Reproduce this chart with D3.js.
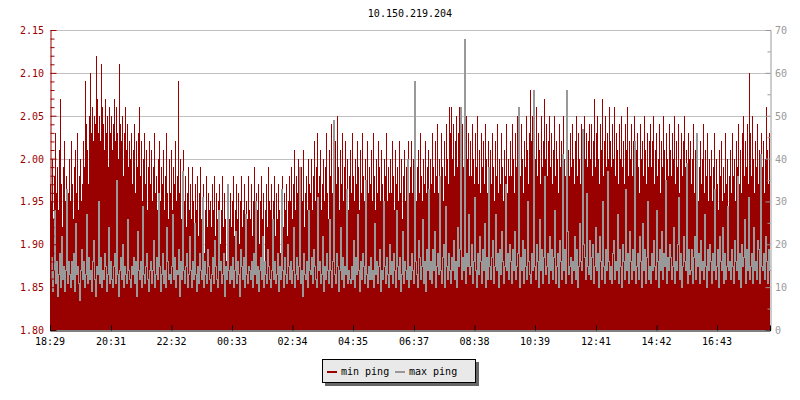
<!DOCTYPE html>
<html>
<head>
<meta charset="utf-8">
<title>10.150.219.204</title>
<script src="https://d3js.org/d3.v7.min.js"></script>
<style>
  body { margin: 0; background: #fff; }
  text { font-family: "DejaVu Sans Mono", monospace; font-size: 10px; }
</style>
</head>
<body>
<script>
// one sample every 2 minutes, starting 18:29, over 24 hours
let spanMin = 1440;
let timeTicks = ["18:29", "20:31", "22:32", "00:33", "02:34", "04:35", "06:37", "08:38", "10:39", "12:41", "14:42", "16:43"];
let leftTicks = [1.80, 1.85, 1.90, 1.95, 2.00, 2.05, 2.10, 2.15];
let rightTicks = [0, 10, 20, 30, 40, 50, 60, 70];
let seriesNames = ["min ping", "max ping"];

let minPing = [
  1.97,1.95,2.00,1.93,1.98,2.03,1.96,1.99,1.94,2.01,2.07,1.97,1.92,1.99,2.02,1.95,1.98,1.90,1.96,2.00,
  1.95,2.02,1.97,1.93,1.99,2.01,1.96,2.03,1.94,1.98,2.00,1.95,1.97,2.02,1.99,2.09,2.04,2.01,1.97,2.05,
  2.10,2.03,2.06,2.02,2.05,2.04,2.12,2.07,2.03,2.05,2.02,2.11,2.06,2.04,2.01,2.07,2.03,2.05,1.99,2.06,
  2.03,2.05,2.01,2.04,2.07,2.02,2.06,2.03,2.00,2.11,2.04,2.02,2.05,1.98,2.03,2.06,2.01,2.04,1.99,2.02,
  2.00,2.03,1.97,2.01,2.04,1.96,2.02,1.99,2.03,2.06,1.98,2.02,1.95,2.00,2.03,1.97,2.01,1.94,1.99,2.02,
  1.97,2.01,1.95,1.99,2.03,1.96,1.98,1.94,2.00,2.02,1.95,1.99,1.97,2.01,1.94,1.98,2.03,1.96,1.93,2.00,
  1.96,2.01,1.94,1.99,1.97,2.02,1.95,1.98,2.09,1.96,2.00,1.93,1.97,2.01,1.95,1.98,1.92,1.96,1.99,1.94,
  1.97,1.93,1.99,1.95,1.92,1.97,1.94,1.98,1.91,1.96,1.99,1.93,1.95,1.97,1.89,1.94,1.98,1.92,1.96,1.94,
  1.95,1.92,1.97,1.94,1.98,1.91,1.96,1.93,1.95,1.97,1.90,1.94,1.98,1.92,1.96,1.93,1.88,1.95,1.97,1.93,
  1.96,1.92,1.95,1.98,1.91,1.94,1.97,1.93,1.96,1.90,1.95,1.98,1.92,1.94,1.97,1.91,1.95,1.93,1.98,1.94,
  1.93,1.97,1.91,1.95,1.99,1.92,1.96,1.94,1.97,1.90,1.95,1.98,1.93,1.96,1.87,1.94,1.97,1.92,1.99,1.95,
  1.94,1.97,1.92,1.95,1.98,1.91,1.96,1.93,1.97,1.94,1.89,1.95,1.98,1.92,1.96,1.94,1.97,1.91,1.95,1.98,
  1.95,1.99,1.93,1.97,2.01,1.94,1.98,1.96,2.00,1.93,1.97,1.99,1.95,2.01,1.92,1.96,1.98,1.94,2.00,1.97,
  1.96,2.00,1.94,1.98,2.02,1.95,1.99,2.03,1.96,1.98,2.01,1.94,1.97,2.00,1.95,1.99,2.03,1.96,1.93,2.01,
  1.98,2.04,1.96,2.00,1.95,2.02,1.97,2.05,1.99,1.94,2.01,1.97,2.03,1.95,1.99,2.02,1.96,2.00,1.94,1.98,
  2.01,1.96,2.03,1.98,1.95,2.00,1.97,2.02,1.99,1.94,2.01,1.96,2.03,1.98,1.95,2.00,1.97,2.02,1.96,1.99,
  1.97,2.01,1.95,2.03,1.98,1.94,2.00,1.96,2.02,1.99,1.95,2.01,1.97,1.93,2.00,1.98,2.03,1.95,1.99,1.96,
  2.00,1.96,2.02,1.98,1.94,2.01,1.97,1.99,1.95,2.02,1.96,2.00,1.93,1.98,2.01,1.95,1.99,1.97,2.02,1.96,
  1.99,2.02,1.96,2.00,1.97,2.03,1.95,1.99,2.01,1.96,2.03,1.98,1.95,2.00,1.97,2.02,1.96,1.99,2.01,1.95,
  2.00,1.97,2.03,1.99,1.96,2.02,1.98,2.04,1.96,2.00,1.97,2.03,1.99,1.95,2.02,1.98,2.04,2.00,1.97,2.06,
  2.03,2.06,2.00,2.04,1.98,2.02,2.05,1.99,2.03,2.06,1.97,2.01,2.04,1.99,2.02,1.97,2.05,2.00,2.03,1.98,
  2.02,1.98,2.04,2.00,1.97,2.03,1.99,2.05,1.97,2.01,1.96,2.03,1.99,2.02,1.97,2.04,2.00,1.96,2.02,1.99,
  2.01,1.97,2.03,1.99,1.95,2.02,1.98,2.04,1.96,2.00,1.97,2.03,1.99,1.95,2.01,1.98,2.04,1.96,2.00,1.98,
  2.02,1.98,2.04,2.00,1.96,2.03,1.99,2.05,1.97,2.01,1.98,2.04,2.00,1.96,2.02,1.99,2.05,2.01,1.97,2.03,
  2.08,2.02,2.05,1.99,2.03,2.00,2.06,1.98,2.03,2.01,1.97,2.05,1.99,2.02,2.07,2.00,2.04,1.98,2.02,2.05,
  1.99,2.03,1.97,2.01,2.05,1.98,2.02,2.00,1.96,2.04,1.99,2.02,1.97,2.05,2.00,1.98,2.03,2.08,2.01,1.98,
  2.03,1.99,2.04,2.00,1.97,2.02,2.05,1.98,2.03,2.00,1.97,2.04,2.01,1.98,2.05,2.00,2.03,1.99,2.02,2.04,
  2.00,2.04,1.98,2.02,2.07,1.99,2.03,2.05,2.00,1.97,2.04,2.01,2.07,1.98,2.02,2.05,1.99,2.03,2.00,2.06,
  2.02,1.99,2.04,2.00,2.06,1.98,2.03,2.01,1.97,2.04,2.00,2.05,1.99,2.02,1.97,2.04,2.01,2.06,1.98,2.02,
  2.00,2.04,1.98,2.02,2.05,1.97,2.01,2.03,1.99,1.96,2.04,2.00,2.02,1.98,2.05,2.01,1.97,2.03,1.99,2.02,
  2.04,1.99,2.02,2.05,1.97,2.01,2.03,1.98,2.00,2.04,1.96,2.02,1.99,2.05,2.01,1.97,2.03,2.00,1.98,2.04,
  2.01,1.98,2.03,2.00,2.05,1.97,2.02,1.99,2.04,1.96,2.00,2.03,1.98,2.02,2.05,1.99,2.01,1.97,2.03,2.00,
  2.02,1.97,2.00,2.04,1.96,2.01,1.98,2.03,1.95,1.99,2.02,1.97,2.00,2.04,1.96,2.01,1.98,2.03,1.95,2.00,
  1.98,2.01,1.95,1.99,2.03,1.96,2.00,1.97,1.94,2.01,1.98,2.02,1.95,1.99,1.96,2.03,1.97,2.00,1.94,1.98,
  2.01,1.96,2.03,1.98,2.00,1.95,2.02,1.99,2.04,1.97,2.01,1.96,2.03,2.05,1.98,2.02,1.99,2.04,1.97,2.10,
  2.03,1.98,2.05,2.00,1.96,2.02,1.99,2.04,1.97,2.01,1.95,2.03,1.99,2.02,1.96,2.00,2.06,2.01,1.97,2.03
];

let maxPing = [
  12,17,9,14,28,11,16,8,13,18,10,22,12,15,9,14,33,11,16,13,
  10,16,12,18,9,25,13,15,11,7,14,19,12,16,10,13,27,11,17,12,
  14,9,16,21,12,8,15,13,30,11,17,10,14,12,18,15,9,13,24,11,
  16,12,10,15,18,11,35,13,8,14,17,12,20,10,15,13,11,26,14,12,
  10,15,13,17,11,16,8,23,14,12,16,10,29,13,11,15,18,12,9,14,
  16,11,14,21,10,13,17,12,32,15,9,13,18,11,14,10,24,16,12,13,
  11,15,27,12,17,10,14,13,19,8,16,12,37,14,11,15,18,10,13,22,
  14,10,16,12,25,13,9,15,11,18,14,12,31,10,16,13,11,19,15,12,
  9,13,17,11,21,15,12,10,28,14,16,11,13,18,8,15,12,34,14,11,
  15,12,17,10,14,23,11,16,13,8,19,15,12,17,10,27,13,11,15,14,
  12,16,10,18,13,30,11,15,9,14,17,12,22,10,16,13,11,19,15,12,
  10,14,26,12,16,11,13,18,9,15,12,33,14,10,17,13,11,20,15,12,
  16,11,14,24,10,13,17,12,15,38,11,14,8,18,13,12,16,10,28,14,
  13,17,11,19,15,12,10,31,14,16,11,13,22,9,15,12,18,14,11,26,
  14,10,16,49,13,11,18,15,9,14,24,12,17,10,15,13,33,11,14,12,
  11,15,12,21,10,17,13,27,14,9,16,12,18,15,11,35,13,10,15,12,
  17,12,14,10,25,13,16,11,15,19,9,14,12,30,15,11,17,13,10,20,
  13,16,11,18,14,10,28,15,12,17,9,13,23,11,16,14,12,40,10,15,
  12,18,14,11,58,16,13,10,21,17,12,15,26,11,16,9,19,14,33,12,
  16,11,19,14,23,10,15,18,13,36,14,11,17,20,10,29,15,12,18,14,
  11,17,14,21,12,16,10,24,15,19,52,12,17,14,68,11,18,15,27,13,
  15,20,11,16,31,14,10,18,13,22,16,11,19,14,25,10,17,12,38,15,
  12,17,21,11,15,27,14,18,10,19,13,23,16,11,15,34,14,18,12,20,
  16,11,19,14,23,12,15,18,52,10,17,14,21,11,19,15,12,30,16,13,
  11,18,14,56,15,12,20,16,10,26,14,19,11,17,36,13,15,18,11,22,
  14,19,12,17,28,11,15,18,10,21,16,12,41,14,19,11,56,23,13,15,
  17,11,16,14,22,12,19,10,15,25,16,14,47,20,17,12,32,15,13,21,
  12,17,20,11,15,24,14,18,10,22,16,12,30,15,11,19,14,37,16,12,
  15,11,18,21,12,16,14,27,11,19,15,10,20,16,12,33,14,18,11,23,
  16,12,19,14,44,11,15,18,12,22,16,10,25,14,19,11,17,30,12,15,
  11,18,14,21,15,12,28,16,10,19,14,23,12,18,15,35,11,17,14,20,
  17,12,15,24,11,16,14,20,31,12,18,10,15,22,16,14,39,11,19,13,
  14,19,11,17,22,12,46,15,18,11,21,14,16,12,27,15,10,19,14,20,
  16,11,18,14,33,12,15,19,10,22,16,14,24,11,18,12,15,29,14,16,
  12,19,15,11,21,16,14,36,12,18,10,20,15,17,26,11,19,14,31,12,
  15,18,11,24,14,16,12,21,19,11,41,15,14,18,12,22,16,11,19,14
];

let W = 800, H = 400;
let pLeft = 50, pRight = 770, pTop = 30, pBottom = 330;
let red = "#990000", gray = "#999999";
let startMin = 18 * 60 + 29;

let svg = d3.select("body").append("svg").attr("width", W).attr("height", H);

function toMinutes(s) {
  let p = s.split(":");
  let m = +p[0] * 60 + +p[1] - startMin;
  return m < 0 ? m + 1440 : m;
}

let x = d3.scaleLinear().domain([0, spanMin]).range([pLeft, pRight]);
let yL = d3.scaleLinear().domain([1.80, 2.15]).range([pBottom, pTop]);
let yR = d3.scaleLinear().domain([0, 70]).range([pBottom, pTop]);

// grid
svg.append("g").selectAll("line")
  .data(leftTicks.slice(1))
  .enter().append("line")
  .attr("x1", pLeft).attr("x2", pRight)
  .attr("y1", d => Math.round(yL(d)) + 0.5).attr("y2", d => Math.round(yL(d)) + 0.5)
  .attr("stroke", "#c0c0c0");

function toPoints(arr) {
  let step = spanMin / arr.length;
  let pts = arr.map((v, i) => [i * step, v]);
  pts.push([spanMin, arr[arr.length - 1]]);
  return pts;
}

svg.append("path")
  .datum(toPoints(minPing))
  .attr("d", d3.area().curve(d3.curveStepAfter)
    .x(d => Math.round(x(d[0]))).y0(pBottom).y1(d => Math.round(yL(d[1]))))
  .attr("fill", red)
  .attr("shape-rendering", "crispEdges");

svg.append("path")
  .datum(toPoints(maxPing))
  .attr("d", d3.line().curve(d3.curveStepAfter)
    .x(d => Math.round(x(d[0])) + 0.5).y(d => Math.round(yR(d[1])) + 0.5))
  .attr("fill", "none")
  .attr("stroke", gray)
  .attr("stroke-width", 1)
  .attr("shape-rendering", "crispEdges");

// left axis
let gl = svg.append("g").attr("transform", "translate(" + (pLeft + 0.5) + ",0)");
gl.call(d3.axisRight(yL).tickValues(d3.range(0, 36).map(i => 1.80 + i * 0.01)).tickSize(4).tickFormat(""));
gl.selectAll(".tick line").attr("stroke", red);
gl.selectAll(".tick").filter((d, i) => i % 5 === 0).select("line").attr("x2", 6);
gl.select(".domain").attr("stroke", red);
svg.append("g").selectAll("text")
  .data(leftTicks).enter().append("text")
  .attr("x", 44).attr("y", d => yL(d) + 4)
  .attr("text-anchor", "end").attr("fill", red)
  .text(d => d.toFixed(2));

// right axis
let gr = svg.append("g").attr("transform", "translate(" + (pRight + 0.5) + ",0)");
gr.call(d3.axisLeft(yR).tickValues(d3.range(0, 71, 5)).tickSize(3).tickFormat(""));
gr.selectAll(".tick line").attr("stroke", gray);
gr.selectAll(".tick").filter(d => d % 10 === 0).select("line").attr("x2", -5);
gr.select(".domain").attr("stroke", gray);
svg.append("g").selectAll("text")
  .data(rightTicks).enter().append("text")
  .attr("x", 775).attr("y", d => yR(d) + 4)
  .attr("fill", gray)
  .text(d => d);

// bottom axis
let gb = svg.append("g").attr("transform", "translate(0," + (pBottom + 0.5) + ")");
gb.call(d3.axisTop(x).tickValues(timeTicks.map(toMinutes)).tickSize(5).tickFormat(""));
gb.selectAll("path, line").attr("stroke", "#000");
svg.append("g").selectAll("text")
  .data(timeTicks).enter().append("text")
  .attr("x", d => x(toMinutes(d))).attr("y", 345)
  .attr("text-anchor", "middle").attr("fill", "#000")
  .text(d => d);

// title
svg.append("text").attr("x", 410).attr("y", 17).attr("text-anchor", "middle")
  .attr("fill", "#000").text("10.150.219.204");

// legend
let lg = svg.append("g");
lg.append("rect").attr("x", 325).attr("y", 362).attr("width", 154).attr("height", 24).attr("fill", "#666");
lg.append("rect").attr("x", 322.5).attr("y", 359.5).attr("width", 153).attr("height", 23)
  .attr("fill", "#e9e9e9").attr("stroke", "#000");
let items = lg.selectAll("g.item").data(seriesNames).enter().append("g")
  .attr("transform", (d, i) => "translate(" + (327 + i * 68) + ",0)");
items.append("rect").attr("x", 0).attr("y", 371).attr("width", 10).attr("height", 2)
  .attr("fill", (d, i) => i === 0 ? red : gray);
items.append("text").attr("x", 14).attr("y", 375).attr("fill", "#000").text(d => d);
</script>
</body>
</html>
